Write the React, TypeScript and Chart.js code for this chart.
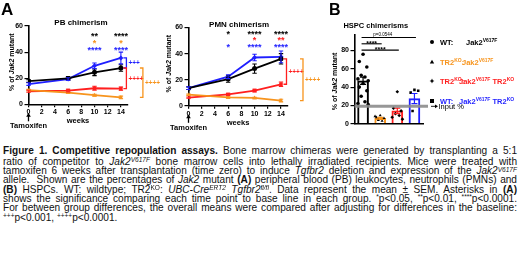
import React, { useEffect, useRef } from "react";
import { Chart, registerables } from "chart.js";

Chart.register(...registerables);

const FONT = '"Liberation Sans", Arial, Helvetica, sans-serif';

// ---------- data ----------
const weeks = [0, 6, 10, 14];
const weekTicks = [0, 2, 4, 6, 8, 10, 12, 14];
const chimerismTicks = [0, 20, 40, 60];
const hspcTicks = [0, 20, 40, 60, 80];

const groupColors = ["#000000", "#F7941D", "#FF1F1F", "#1F1FFF"];

// PB chimerism (% Jak2 mutant), mean and SEM per week
const pbWT = [17.8, 19.8, 24.5, 27.8];
const pbWTErr = [1.0, 1.5, 2.5, 2.5];
const pbTR2 = [10.8, 9.0, 7.0, 5.3];
const pbTR2Err = [0.6, 0.5, 0.7, 1.0];
const pbTR2Jak = [10.0, 10.5, 12.3, 12.0];
const pbTR2JakErr = [0.8, 1.0, 1.5, 1.2];
const pbWTJakTR = [15.5, 19.3, 29.5, 35.5];
const pbWTJakTRErr = [1.0, 1.0, 2.2, 4.5];

// PMN chimerism
const pmnWT = [13.5, 20.5, 28.5, 36.0];
const pmnWTErr = [1.0, 2.5, 3.5, 4.0];
const pmnTR2 = [8.5, 6.4, 6.0, 4.0];
const pmnTR2Err = [0.5, 0.5, 0.5, 1.0];
const pmnTR2Jak = [6.3, 8.7, 11.7, 16.5];
const pmnTR2JakErr = [0.5, 0.8, 1.0, 1.7];
const pmnWTJakTR = [13.5, 22.3, 37.0, 37.5];
const pmnWTJakTRErr = [1.0, 1.5, 2.5, 4.5];

// significance vs baseline (per week)
const pbStarsWT = ["", "", "**", "****"];
const pbStarsTR2 = ["", "", "*", "*"];
const pbStarsWTJakTR = ["", "", "****", "****"];
const pmnStarsWT = ["", "*", "****", "****"];
const pmnStarsTR2Jak = ["", "", "*", "**"];
const pmnStarsWTJakTR = ["", "*", "****", "****"];

// between-group differences (vs WT: Jak2V617F)
const pbBracketGroups = [3, 2, 1];
const pbBracketLabels = ["+++", "++++", "++++"];
const pmnBracketGroups = [2, 1];
const pmnBracketLabels = ["++++", "++++"];

// HSPC chimerisms
const hspcGroups = ["WT: Jak2V617F", "TR2KO: Jak2V617F", "TR2KO: Jak2V617F TR2KO", "WT: Jak2V617F TR2KO"];
const hspcMeans = [47, 6, 14, 27.5];
const hspcErr = [4.0, 1.0, 3.0, 5.5];
const hspcWTDots = [76, 68, 62, 53, 51, 49, 47, 44, 40, 36, 30, 24, 22, 21];
const hspcTR2Dots = [9, 7, 6, 4, 3, 8];
const hspcTR2JakDots = [35, 17, 14, 11, 9, 7, 5];
const hspcWTJakTRDots = [37, 34, 36, 14];
const inputPercent = 19;
const hspcComparisons = [
  [0, 3],
  [0, 1],
  [0, 2],
];
const hspcComparisonLabels = ["p=0.0544", "****", "****"];

// ---------- helpers ----------
type Seg = { t: string; it?: boolean; w?: string; s?: number; dy?: number; c?: string };

function segFont(seg: Seg, base: number, weight: string) {
  return `${seg.it ? "italic " : ""}${seg.w ?? weight} ${seg.s ?? base}px ${FONT}`;
}

function drawRich(
  ctx: CanvasRenderingContext2D,
  segs: Seg[],
  x: number,
  y: number,
  base: number,
  color: string,
  align: "left" | "center",
  weight = "bold"
) {
  ctx.save();
  ctx.textBaseline = "alphabetic";
  ctx.textAlign = "left";
  let total = 0;
  for (const s of segs) {
    ctx.font = segFont(s, base, weight);
    total += ctx.measureText(s.t).width;
  }
  let cx = align === "center" ? x - total / 2 : x;
  for (const s of segs) {
    ctx.font = segFont(s, base, weight);
    ctx.fillStyle = s.c ?? color;
    ctx.fillText(s.t, cx, y + (s.dy ?? 0));
    cx += ctx.measureText(s.t).width;
  }
  ctx.restore();
}

const yLabelSegs: Seg[] = [{ t: "% of " }, { t: "Jak2", it: true }, { t: " mutant" }];

function drawYLabel(ctx: CanvasRenderingContext2D, cx: number, cy: number, size: number) {
  ctx.save();
  ctx.translate(cx, cy);
  ctx.rotate(-Math.PI / 2);
  drawRich(ctx, yLabelSegs, 0, size * 0.36, size, "#000", "center");
  ctx.restore();
}

function errorBar(ctx: CanvasRenderingContext2D, x: number, y1: number, y2: number, cap: number, color: string, lw: number) {
  ctx.save();
  ctx.strokeStyle = color;
  ctx.lineWidth = lw;
  ctx.beginPath();
  ctx.moveTo(x, y1);
  ctx.lineTo(x, y2);
  ctx.moveTo(x - cap, y1);
  ctx.lineTo(x + cap, y1);
  ctx.moveTo(x - cap, y2);
  ctx.lineTo(x + cap, y2);
  ctx.stroke();
  ctx.restore();
}

const tickFont = { family: FONT, size: 7, weight: "bold" as const };

type LineSpec = {
  W: number;
  H: number;
  area: { left: number; top: number; right: number; bottom: number };
  title: string;
  titleDx: number;
  yLabelX: number;
  series: number[][];
  errs: number[][];
  stars: { g: number; m: string[] }[];
  starTop: number;
  starGap: number;
  bracketGroups: number[];
  bracketLabels: string[];
};

const lineShapes = ["circle", "triangle", "rect", "rectRot"];

function lineConfig(spec: LineSpec): any {
  const { W, H, area } = spec;
  const decor = {
    id: "lineDecor",
    afterDatasetsDraw(chart: any) {
      const { ctx, scales } = chart;
      const x = scales.x;
      const y = scales.y;
      spec.series.forEach((vals, gi) => {
        vals.forEach((v, i) => {
          const e = spec.errs[gi][i];
          errorBar(ctx, x.getPixelForValue(weeks[i]), y.getPixelForValue(v + e), y.getPixelForValue(v - e), 2.2, groupColors[gi], 1.1);
        });
      });
    },
    afterDraw(chart: any) {
      const { ctx, chartArea: a, scales } = chart;
      const x = scales.x;
      const y = scales.y;
      drawRich(ctx, [{ t: spec.title }], (a.left + a.right) / 2 + spec.titleDx, a.top - 1, 8, "#000", "center");
      drawYLabel(ctx, spec.yLabelX, (a.top + a.bottom) / 2 - 3, 7);
      drawRich(ctx, [{ t: "weeks" }], (a.left + a.right) / 2, a.bottom + 18.7, 7.5, "#000", "center");
      const x0 = x.getPixelForValue(0);
      ctx.save();
      ctx.strokeStyle = "#000";
      ctx.fillStyle = "#000";
      ctx.lineWidth = 1.3;
      ctx.beginPath();
      ctx.moveTo(x0, a.bottom + 11);
      ctx.lineTo(x0, a.bottom + 17);
      ctx.stroke();
      ctx.beginPath();
      ctx.moveTo(x0, a.bottom + 8.5);
      ctx.lineTo(x0 - 2.3, a.bottom + 12.5);
      ctx.lineTo(x0 + 2.3, a.bottom + 12.5);
      ctx.closePath();
      ctx.fill();
      ctx.restore();
      drawRich(ctx, [{ t: "Tamoxifen" }], x0, a.bottom + 23.7, 7.5, "#000", "center");
      spec.stars.forEach((row, r) => {
        const cy = a.top + spec.starTop + r * spec.starGap;
        row.m.forEach((m, i) => {
          if (!m) return;
          drawRich(ctx, [{ t: m }], x.getPixelForValue(weeks[i]), cy + 0.57 * 9, 9, groupColors[row.g], "center");
        });
      });
      const last = weeks.length - 1;
      const xl = x.getPixelForValue(weeks[last]);
      const yRef = y.getPixelForValue(spec.series[0][last]);
      spec.bracketGroups.forEach((g, k) => {
        const bx = xl + (g === 1 ? 22 : 5.5);
        const yg = y.getPixelForValue(spec.series[g][last]);
        ctx.save();
        ctx.strokeStyle = groupColors[g];
        ctx.lineWidth = 1.3;
        ctx.beginPath();
        ctx.moveTo(bx - 3, yRef);
        ctx.lineTo(bx, yRef);
        ctx.lineTo(bx, yg);
        ctx.lineTo(bx - 3, yg);
        ctx.stroke();
        ctx.restore();
        drawRich(ctx, [{ t: spec.bracketLabels[k] }], bx + 2, (yRef + yg) / 2 + 2.4, 6.5, groupColors[g], "left");
      });
    },
  };
  return {
    type: "line",
    data: {
      datasets: spec.series.map((vals, gi) => ({
        data: weeks.map((w, i) => ({ x: w, y: vals[i] })),
        borderColor: groupColors[gi],
        backgroundColor: groupColors[gi],
        borderWidth: 1.8,
        pointRadius: 2.5,
        pointStyle: lineShapes[gi],
        pointBorderWidth: 0,
        tension: 0,
      })),
    },
    options: {
      animation: false,
      responsive: false,
      maintainAspectRatio: false,
      layout: { padding: { top: area.top, right: W - area.right, left: 0, bottom: 0 } },
      plugins: { legend: { display: false }, tooltip: { enabled: false } },
      scales: {
        x: {
          type: "linear",
          min: 0,
          max: 15,
          afterBuildTicks: (s: any) => {
            s.ticks = weekTicks.map((v) => ({ value: v }));
          },
          afterFit: (s: any) => {
            s.height = H - area.bottom;
          },
          ticks: { font: tickFont, color: "#000", padding: 1, autoSkip: false, maxRotation: 0 },
          grid: { drawOnChartArea: false, tickLength: 3, color: "#000", lineWidth: 1.2 },
          border: { color: "#000", width: 1.6 },
        },
        y: {
          type: "linear",
          min: 0,
          max: 60,
          afterBuildTicks: (s: any) => {
            s.ticks = chimerismTicks.map((v) => ({ value: v }));
          },
          afterFit: (s: any) => {
            s.width = area.left;
          },
          ticks: { font: tickFont, color: "#000", padding: 1.5 },
          grid: { drawOnChartArea: false, tickLength: 4, color: "#000", lineWidth: 1.2 },
          border: { color: "#000", width: 1.6 },
        },
      },
    },
    plugins: [decor],
  };
}

const pbSpec: LineSpec = {
  W: 175,
  H: 140,
  area: { left: 28.5, top: 26, right: 127.5, bottom: 104.3 },
  title: "PB chimerism",
  titleDx: 3,
  yLabelX: 11.5,
  series: [pbWT, pbTR2, pbTR2Jak, pbWTJakTR],
  errs: [pbWTErr, pbTR2Err, pbTR2JakErr, pbWTJakTRErr],
  stars: [
    { g: 0, m: pbStarsWT },
    { g: 1, m: pbStarsTR2 },
    { g: 3, m: pbStarsWTJakTR },
  ],
  starTop: 8.3,
  starGap: 7,
  bracketGroups: pbBracketGroups,
  bracketLabels: pbBracketLabels,
};

const pmnSpec: LineSpec = {
  W: 175,
  H: 140,
  area: { left: 33.5, top: 27.5, right: 132.6, bottom: 105.8 },
  title: "PMN chimerism",
  titleDx: 1,
  yLabelX: 13.3,
  series: [pmnWT, pmnTR2, pmnTR2Jak, pmnWTJakTR],
  errs: [pmnWTErr, pmnTR2Err, pmnTR2JakErr, pmnWTJakTRErr],
  stars: [
    { g: 0, m: pmnStarsWT },
    { g: 2, m: pmnStarsTR2Jak },
    { g: 3, m: pmnStarsWTJakTR },
  ],
  starTop: 4.5,
  starGap: 6.3,
  bracketGroups: pmnBracketGroups,
  bracketLabels: pmnBracketLabels,
};

const dotShapes = ["circle", "triangle", "rectRot", "rect"];
const jitterPattern = [0, -0.22, 0.22, -0.11, 0.11, -0.3, 0.3];

function hspcConfig(): any {
  const W = 220;
  const H = 140;
  const area = { left: 54.5, top: 35, right: 123, bottom: 123.7 };
  const dots = [hspcWTDots, hspcTR2Dots, hspcTR2JakDots, hspcWTJakTRDots];
  const decor = {
    id: "hspcDecor",
    afterDatasetsDraw(chart: any) {
      const { ctx, chartArea: a, scales } = chart;
      const x = scales.x;
      const y = scales.y;
      hspcMeans.forEach((m, i) => {
        errorBar(ctx, x.getPixelForValue(i), y.getPixelForValue(m + hspcErr[i]), y.getPixelForValue(m - hspcErr[i]), 3, groupColors[i], 1.2);
      });
      const yi = y.getPixelForValue(inputPercent);
      ctx.save();
      ctx.strokeStyle = "rgba(140,140,140,0.9)";
      ctx.lineWidth = 3;
      ctx.beginPath();
      ctx.moveTo(a.left, yi);
      ctx.lineTo(a.right + 5, yi);
      ctx.stroke();
      ctx.strokeStyle = "#000";
      ctx.fillStyle = "#000";
      ctx.lineWidth = 0.9;
      ctx.beginPath();
      ctx.moveTo(a.right + 8, yi);
      ctx.lineTo(a.right + 13, yi);
      ctx.stroke();
      ctx.beginPath();
      ctx.moveTo(a.right + 15, yi);
      ctx.lineTo(a.right + 12, yi - 1.8);
      ctx.lineTo(a.right + 12, yi + 1.8);
      ctx.closePath();
      ctx.fill();
      ctx.restore();
      drawRich(ctx, [{ t: "Input %" }], a.right + 15.5, yi + 2.6, 7.5, "#000", "left", "normal");
    },
    afterDraw(chart: any) {
      const { ctx, chartArea: a, scales } = chart;
      const x = scales.x;
      drawRich(ctx, [{ t: "HSPC chimerisms" }], (a.left + a.right) / 2 - 13, a.top - 7.5, 7.5, "#000", "center");
      drawYLabel(ctx, 34, (a.top + a.bottom) / 2 + 2, 7);
      hspcComparisons.forEach(([g1, g2], r) => {
        const ly = a.top + 2.5 + r * 6.3;
        const x1 = x.getPixelForValue(g1) - 1.5;
        const x2 = x.getPixelForValue(g2) + 1.5;
        ctx.save();
        ctx.strokeStyle = "#000";
        ctx.lineWidth = 1.1;
        ctx.beginPath();
        ctx.moveTo(x1, ly);
        ctx.lineTo(x2, ly);
        ctx.stroke();
        ctx.restore();
        const lab = hspcComparisonLabels[r];
        if (lab.startsWith("p")) {
          drawRich(ctx, [{ t: lab }], (x1 + x2) / 2 - 6, ly - 1.2, 4.5, "#000", "center", "normal");
        } else {
          drawRich(ctx, [{ t: lab }], (x1 + x2) / 2, ly + 1.8, 7, "#000", "center");
        }
      });
      const rows = [42, 62, 81, 101];
      const col2 = [166, 162, 159, 159];
      const supS = 5;
      const legendText: Seg[][][] = [
        [[{ t: "WT:" }], [{ t: "Jak2" }, { t: "V617F", s: supS, dy: -3 }]],
        [[{ t: "TR2" }, { t: "KO", s: supS, dy: -3 }, { t: ":" }], [{ t: "Jak2" }, { t: "V617F", s: supS, dy: -3 }]],
        [[{ t: "TR2" }, { t: "KO", s: supS, dy: -3 }, { t: ":" }], [{ t: "Jak2" }, { t: "V617F", s: supS, dy: -3 }, { t: " TR2" }, { t: "KO", s: supS, dy: -3 }]],
        [[{ t: "WT:" }], [{ t: "Jak2" }, { t: "V617F", s: supS, dy: -3 }, { t: " TR2" }, { t: "KO", s: supS, dy: -3 }]],
      ];
      rows.forEach((ry, i) => {
        const mx = 132;
        ctx.save();
        ctx.fillStyle = "#000";
        ctx.beginPath();
        if (i === 0) ctx.arc(mx, ry, 2, 0, Math.PI * 2);
        else if (i === 1) {
          ctx.moveTo(mx, ry - 2.3);
          ctx.lineTo(mx + 2.2, ry + 1.6);
          ctx.lineTo(mx - 2.2, ry + 1.6);
          ctx.closePath();
        } else if (i === 2) {
          ctx.moveTo(mx, ry - 2.4);
          ctx.lineTo(mx + 0.8, ry - 0.8);
          ctx.lineTo(mx + 2.4, ry);
          ctx.lineTo(mx + 0.8, ry + 0.8);
          ctx.lineTo(mx, ry + 2.4);
          ctx.lineTo(mx - 0.8, ry + 0.8);
          ctx.lineTo(mx - 2.4, ry);
          ctx.lineTo(mx - 0.8, ry - 0.8);
          ctx.closePath();
        } else ctx.rect(mx - 2, ry - 2, 4, 4);
        ctx.fill();
        ctx.restore();
        drawRich(ctx, legendText[i][0], 140, ry + 2.7, 7.5, groupColors[i], "left");
        drawRich(ctx, legendText[i][1], col2[i], ry + 2.7, 7.5, groupColors[i], "left");
      });
    },
  };
  return {
    type: "bar",
    data: {
      datasets: [
        {
          type: "bar",
          label: "mean",
          data: hspcMeans.map((m, i) => ({ x: i, y: m, group: hspcGroups[i] })),
          backgroundColor: "#ffffff",
          borderColor: groupColors,
          borderWidth: 2,
          barThickness: 11,
          order: 2,
        },
        ...dots.map((vals, g) => ({
          type: "scatter",
          label: hspcGroups[g],
          data: vals.map((v, i) => ({ x: g + jitterPattern[i % jitterPattern.length], y: v })),
          pointStyle: dotShapes[g],
          pointRadius: 1.8,
          pointBorderWidth: 0,
          backgroundColor: "#000",
          borderColor: "#000",
          showLine: false,
          order: 1,
        })),
      ],
    },
    options: {
      animation: false,
      responsive: false,
      maintainAspectRatio: false,
      layout: { padding: { top: area.top, right: W - area.right, left: 0, bottom: 0 } },
      plugins: { legend: { display: false }, tooltip: { enabled: false } },
      scales: {
        x: {
          type: "linear",
          min: -0.5,
          max: 3.5,
          offset: false,
          afterFit: (s: any) => {
            s.height = H - area.bottom;
          },
          ticks: { display: false },
          grid: { display: false },
          border: { color: "#000", width: 1.6 },
        },
        y: {
          type: "linear",
          min: 0,
          max: 97,
          afterBuildTicks: (s: any) => {
            s.ticks = hspcTicks.map((v) => ({ value: v }));
          },
          afterFit: (s: any) => {
            s.width = area.left;
          },
          ticks: { font: tickFont, color: "#000", padding: 1.5 },
          grid: { drawOnChartArea: false, tickLength: 4, color: "#000", lineWidth: 1.2 },
          border: { color: "#000", width: 1.6 },
        },
      },
    },
    plugins: [decor],
  };
}

// ---------- caption ----------
const supStyle: React.CSSProperties = { fontSize: "0.65em", position: "relative", top: "-0.42em", lineHeight: 0 };
const Sup = ({ children }: { children: React.ReactNode }) => <span style={supStyle}>{children}</span>;

const captionBaselines = [154.2, 165.5, 174.8, 183.7, 193.4, 202.6, 211.6, 221.2];

const captionLines: React.ReactNode[] = [
  <>
    <b>Figure 1. Competitive repopulation assays.</b> Bone marrow chimeras were generated by transplanting a 5:1
  </>,
  <>
    ratio of competitor to <i>Jak2</i>
    <Sup>
      <i>V617F</i>
    </Sup>{" "}
    bone marrow cells into lethally irradiated recipients. Mice were treated with
  </>,
  <>
    tamoxifen 6 weeks after transplantation (time zero) to induce <i>Tgfbr2</i> deletion and expression of the <i>Jak2</i>
    <Sup>
      <i>V617F</i>
    </Sup>
  </>,
  <>
    allele.{"\u00a0"} Shown are the percentages of <i>Jak2</i> mutant <b>(A)</b> peripheral blood (PB) leukocytes, neutrophils (PMNs) and
  </>,
  <>
    <b>(B)</b> HSPCs. WT: wildtype; TR2<Sup>KO</Sup>:{" "}
    <i>
      UBC-Cre<Sup>ERT2</Sup> Tgfbr2<Sup>fl/fl</Sup>
    </i>
    . Data represent the mean ± SEM. Asterisks in <b>(A)</b>
  </>,
  <>
    shows the significance comparing each time point to base line in each group. <Sup>*</Sup>p&lt;0.05, <Sup>**</Sup>p&lt;0.01,{" "}
    <Sup>****</Sup>p&lt;0.0001.
  </>,
  <>For between group differences, the overall means were compared after adjusting for differences in the baseline:</>,
  <>
    <Sup>+++</Sup>p&lt;0.001, <Sup>++++</Sup>p&lt;0.0001.
  </>,
];

export default function App() {
  const pbRef = useRef<HTMLCanvasElement>(null);
  const pmnRef = useRef<HTMLCanvasElement>(null);
  const hspcRef = useRef<HTMLCanvasElement>(null);

  useEffect(() => {
    const charts = [
      new Chart(pbRef.current!, lineConfig(pbSpec)),
      new Chart(pmnRef.current!, lineConfig(pmnSpec)),
      new Chart(hspcRef.current!, hspcConfig()),
    ];
    return () => charts.forEach((c) => c.destroy());
  }, []);

  const capFs = 10.1;
  const capLh = 12;
  const baseOff = (capLh - 1.117 * capFs) / 2 + 0.905 * capFs;

  return (
    <div
      style={{
        position: "fixed",
        left: 0,
        top: 0,
        width: 520,
        height: 257,
        background: "#fff",
        overflow: "hidden",
        fontFamily: FONT,
        color: "#000",
      }}
    >
      <canvas ref={pbRef} width={175} height={140} style={{ position: "absolute", left: 0, top: 0, width: 175, height: 140 }} />
      <canvas ref={pmnRef} width={175} height={140} style={{ position: "absolute", left: 155, top: 0, width: 175, height: 140 }} />
      <canvas ref={hspcRef} width={220} height={140} style={{ position: "absolute", left: 300, top: 0, width: 220, height: 140 }} />
      <div style={{ position: "absolute", left: 1, top: 1, fontSize: 17, fontWeight: "bold", lineHeight: "17px" }}>A</div>
      <div style={{ position: "absolute", left: 329, top: 1, fontSize: 16, fontWeight: "bold", lineHeight: "17px" }}>B</div>
      {captionLines.map((line, i) => (
        <div
          key={i}
          style={{
            position: "absolute",
            left: 3,
            width: 514,
            top: captionBaselines[i] - baseOff,
            fontSize: capFs,
            lineHeight: `${capLh}px`,
            textAlign: i === captionLines.length - 1 ? "left" : "justify",
            textAlignLast: i === captionLines.length - 1 ? "left" : "justify",
            color: "#111",
          }}
        >
          {line}
        </div>
      ))}
    </div>
  );
}
